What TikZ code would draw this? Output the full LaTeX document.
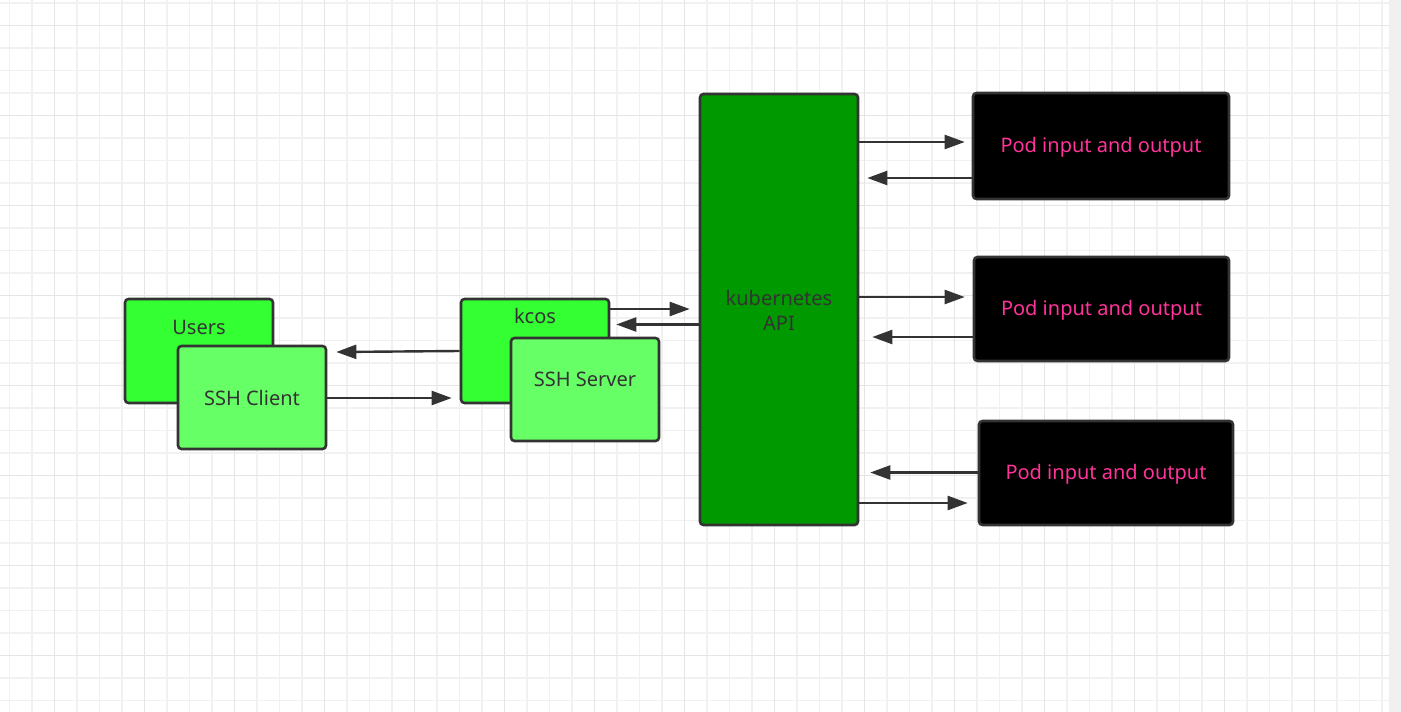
\documentclass[tikz,border=0pt]{standalone}
\usepackage{fontspec}
\setmainfont{Noto Sans}
\usetikzlibrary{arrows.meta}
\definecolor{gridminor}{HTML}{F1F1F1}
\definecolor{gridmajor}{HTML}{E5E5E5}
\definecolor{stripgrey}{HTML}{F0F0F0}
\definecolor{edge}{HTML}{333333}
\definecolor{usersgreen}{HTML}{33FF33}
\definecolor{lightgreen}{HTML}{66FF66}
\definecolor{apigreen}{HTML}{009900}
\definecolor{podpink}{HTML}{FF3399}
\tikzset{
  box/.style={draw=edge, line width=2.6pt, rounded corners=3.5pt, inner sep=0pt},
  txt/.style={font=\fontsize{20}{25}\selectfont, text=edge, inner sep=0pt},
  podtxt/.style={font=\fontsize{20}{25}\selectfont, text=podpink, inner sep=0pt},
  arr/.style={draw=edge, line width=2.4pt, -{Triangle[length=20pt,width=14pt]}},
}
\begin{document}
\begin{tikzpicture}[x=1pt,y=-1pt]
\useasboundingbox (0,0) rectangle (1401,712);
\fill[white] (0,0) rectangle (1401,712);
% grid
\foreach \i in {0,...,61} {
  \pgfmathsetmacro{\gx}{9.3+22.5*\i}
  \draw[gridminor, line width=1.5pt] (\gx,0) -- (\gx,712);
}
\foreach \j in {0,...,31} {
  \pgfmathsetmacro{\gy}{3.2+22.5*\j}
  \draw[gridminor, line width=1.5pt] (0,\gy) -- (1389,\gy);
}
\foreach \i in {0,...,15} {
  \pgfmathsetmacro{\gx}{54.3+90*\i}
  \draw[gridmajor, line width=1.5pt] (\gx,0) -- (\gx,712);
}
\foreach \j in {0,...,7} {
  \pgfmathsetmacro{\gy}{25.7+90*\j}
  \draw[gridmajor, line width=1.5pt] (0,\gy) -- (1389,\gy);
}
\fill[stripgrey] (1389,0) rectangle (1401,712);

% boxes
\node[box, fill=usersgreen, minimum width=148pt, minimum height=104pt] (users) at (199,351) {};
\node[txt] (userst) at (199,327) {Users};
\node[box, fill=lightgreen, minimum width=148pt, minimum height=103pt] (client) at (252,397.5) {};
\node[txt] (clientt) at (252,398) {SSH Client};

\node[box, fill=usersgreen, minimum width=148pt, minimum height=104pt] (kcos) at (535,351) {};
\node[txt] (kcost) at (535,316) {kcos};
\node[box, fill=lightgreen, minimum width=148pt, minimum height=103pt] (server) at (585,389.5) {};
\node[txt] (servert) at (585,379) {SSH Server};

\node[box, fill=apigreen, minimum width=158pt, minimum height=431pt] (api) at (779,309.5) {};
\node[txt, align=center] (apit) at (779,310) {kubernetes\\API};

\node[box, fill=black, minimum width=256pt, minimum height=106pt] (pod1) at (1101,146) {};
\node[podtxt] (pod1t) at (1101,147) {Pod input and output};
\node[box, fill=black, minimum width=255pt, minimum height=104pt] (pod2) at (1101.5,309) {};
\node[podtxt] (pod2t) at (1101.5,310) {Pod input and output};
\node[box, fill=black, minimum width=254pt, minimum height=104pt] (pod3) at (1106,473) {};
\node[podtxt] (pod3t) at (1106,474) {Pod input and output};

% connectors
\draw[arr] (kcos.west |- 0,351) -- ([xshift=9pt]client.east |- 0,352);
\draw[arr] (client.east |- 0,398) -- ([xshift=-8pt]kcos.west |- 0,398);
\draw[arr] (kcos.east |- 0,309) -- ([xshift=-9pt]api.west |- 0,309);
\draw[arr] (api.west |- 0,324.5) -- ([xshift=6pt]kcos.east |- 0,324.5);
\draw[arr] (api.east |- 0,142) -- ([xshift=-7pt]pod1.west |- 0,142);
\draw[arr] (pod1.west |- 0,178) -- ([xshift=8pt]api.east |- 0,178);
\draw[arr] (api.east |- 0,297) -- ([xshift=-8pt]pod2.west |- 0,297);
\draw[arr] (pod2.west |- 0,337) -- ([xshift=13pt]api.east |- 0,337);
\draw[arr] (pod3.west |- 0,472.5) -- ([xshift=11pt]api.east |- 0,472.5);
\draw[arr] (api.east |- 0,503) -- ([xshift=-10pt]pod3.west |- 0,503);
\end{tikzpicture}
\end{document}
